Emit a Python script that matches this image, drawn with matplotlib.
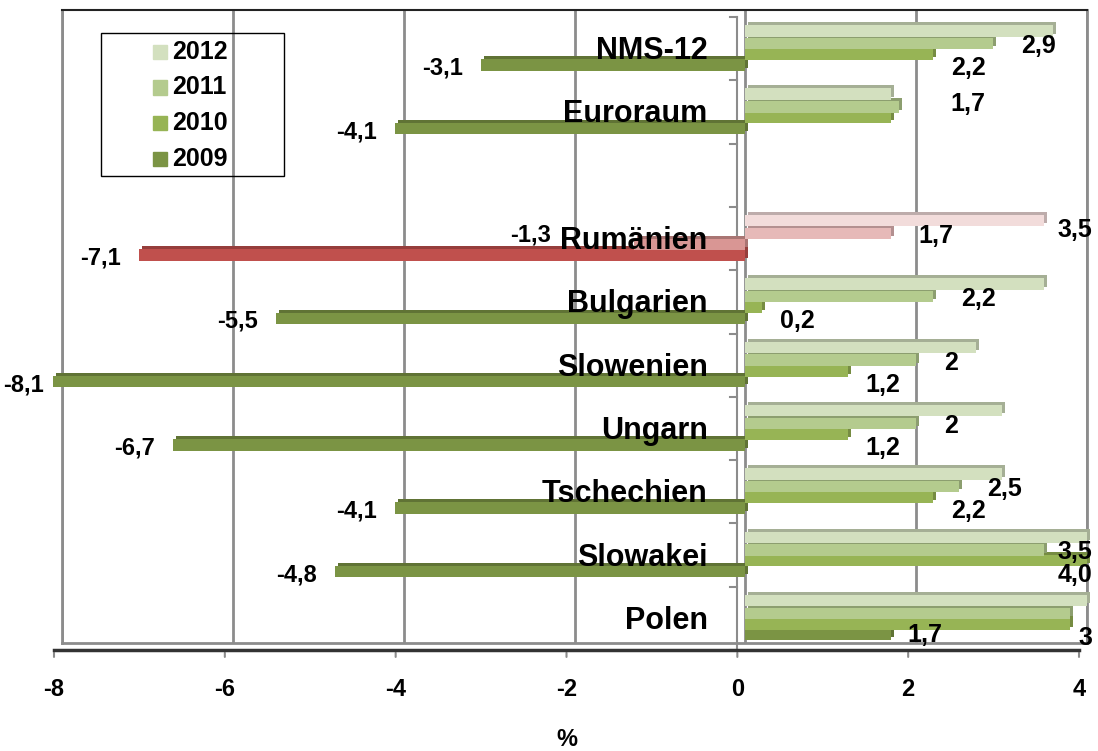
import matplotlib.pyplot as plt
import matplotlib.transforms as mtransforms
from matplotlib.patches import Rectangle
from matplotlib import font_manager
import numpy as np

plt.rcParams['font.family'] = ['Liberation Sans', 'DejaVu Sans']
plt.rcParams['font.weight'] = 'bold'

# Kategorien von unten nach oben, '' = Leerzeile zwischen Ländern und Aggregaten
laender = ['Polen', 'Slowakei', 'Tschechien', 'Ungarn', 'Slowenien', 'Bulgarien',
           'Rumänien', '', 'Euroraum', 'NMS-12']
jahre = ['2009', '2010', '2011', '2012']

w2009 = [1.7, -4.8, -4.1, -6.7, -8.1, -5.5, -7.1, None, -4.1, -3.1]
w2010 = [3.8, 4.0, 2.2, 1.2, 1.2, 0.2, -1.3, None, 1.7, 2.2]
w2011 = [3.8, 3.5, 2.5, 2.0, 2.0, 2.2, 1.7, None, 1.8, 2.9]
w2012 = [4.0, 4.0, 3.0, 3.0, 2.7, 3.5, 3.5, None, 1.7, 3.6]

# Datenbeschriftungen wie im Original (nicht jeder Balken hat eine)
lab2009 = ['1,7', '-4,8', '-4,1', '-6,7', '-8,1', '-5,5', '-7,1', None, '-4,1', '-3,1']
lab2010 = ['3', '4,0', '2,2', '1,2', '1,2', '0,2', '-1,3', None, None, '2,2']
lab2011 = [None, '3,5', '2,5', '2', '2', '2,2', '1,7', None, None, '2,9']
lab2012 = [None, None, None, None, None, None, '3,5', None, '1,7', None]

xticks = [-8, -6, -4, -2, 0, 2, 4]

werte = [w2009, w2010, w2011, w2012]
labels = [lab2009, lab2010, lab2011, lab2012]
gruen = ['#7b9444', '#97b455', '#b4cb8e', '#d3e0bf']
rot = ['#c0504d', '#d99694', '#e6b9b8', '#f2dcdb']
versatz = [-0.37, -0.2, -0.03, 0.17]
hoehe = 0.18
# Lage der positiven Beschriftungen je Serie (Abstand rechts, Verschiebung nach unten)
lab_dx = [0.2, 0.21, 0.33, 0.7]
lab_dy = [0.0, -0.22, -0.04, -0.15]


def dunkler(c, f=0.78):
    r, g, b = [int(c[i:i + 2], 16) / 255 for i in (1, 3, 5)]
    return (r * f, g * f, b * f)


# schmale Schrift für Achse und negative Werte, falls vorhanden
try:
    font_manager.findfont(font_manager.FontProperties(family='Liberation Sans Narrow', weight='bold'),
                          fallback_to_default=False)
    schmal = ['Liberation Sans Narrow', 'DejaVu Sans']
    schmal_size = 21
except Exception:
    schmal = ['Liberation Sans', 'DejaVu Sans']
    schmal_size = 17

W, H = 1098, 751
fig = plt.figure(figsize=(W / 100, H / 100), dpi=100)
ax = fig.add_axes([62 / W, 1 - 643 / H, (1087 - 62) / W, (643 - 10) / H])
ax.set_xlim(-8, 4)
ax.set_ylim(-0.5, 9.5)
ax.set_xticks([])
ax.set_yticks([])
for s in ['left', 'right', 'bottom']:
    ax.spines[s].set_color('#8c8c8c')
    ax.spines[s].set_linewidth(2)
ax.spines['top'].set_color('#222222')
ax.spines['top'].set_linewidth(1.5)

for x in xticks:
    ax.axvline(x, color='#8c8c8c', lw=2, zorder=1)

# vorne = Boden/Achse im 3D-Look etwas nach links unten versetzt
vorne = ax.transData + mtransforms.ScaledTranslation(-8 / 100, -7 / 100, fig.dpi_scale_trans)
schatten = ax.transData + mtransforms.ScaledTranslation(3 / 100, 3 / 100, fig.dpi_scale_trans)

ax.plot([-8, 4], [-0.5, -0.5], color='#333333', lw=2.5, transform=vorne, clip_on=False, zorder=5)
for x in xticks:
    ax.annotate('', xy=(x, -0.5), xycoords=vorne, xytext=(0, -7), textcoords='offset points',
                arrowprops=dict(arrowstyle='-', color='#8c8c8c', lw=1.5), annotation_clip=False)
    ax.text(x, -0.5, str(x), transform=ax.transData + mtransforms.ScaledTranslation(-8 / 100, -47 / 100, fig.dpi_scale_trans),
            ha='center', va='center', family=schmal, fontsize=schmal_size, fontweight='bold')

# Kategorieachse bei 0
ax.plot([0, 0], [-0.5, 9.5], color='#8c8c8c', lw=1.5, transform=vorne, clip_on=False, zorder=2)
for k in range(-1, 10):
    ax.plot([-0.09, 0], [k + 0.5, k + 0.5], color='#8c8c8c', lw=1.5, transform=vorne, clip_on=False, zorder=2)

y = np.arange(len(laender))
for i in range(4):
    vals = werte[i]
    idx = [j for j in range(len(vals)) if vals[j] is not None]
    farben = [rot[i] if laender[j] == 'Rumänien' else gruen[i] for j in idx]
    yy = y[idx] + versatz[i]
    vv = [vals[j] for j in idx]
    sh = ax.barh(yy, vv, height=hoehe, color=[dunkler(c) for c in farben], zorder=3, clip_on=False)
    for p in sh:
        p.set_transform(schatten)
    ax.barh(yy, vv, height=hoehe, color=farben, zorder=3, clip_on=False)

    for j in idx:
        txt = labels[i][j]
        if txt is None:
            continue
        v = vals[j]
        by = y[j] + versatz[i]
        if v >= 0:
            lx, ly, ha = v + lab_dx[i], by + lab_dy[i], 'left'
            if lx + 0.14 * len(txt) > 4.06:
                lx, ha = 4.06, 'right'
            ax.text(lx, ly, txt, ha=ha, va='center', fontsize=18,
                    fontweight='bold', zorder=6, clip_on=False)
        else:
            lx, ly = max(v - 0.45, -8.45), by - 0.05
            if laender[j] == 'Rumänien' and i == 1:
                lx, ly = lx - 0.77, ly + 0.19
            ax.text(lx, ly, txt, ha='center', va='center', family=schmal, fontsize=schmal_size,
                    fontweight='bold', zorder=6, clip_on=False)

for j, name in enumerate(laender):
    if name:
        ax.text(-0.44, j - 0.15, name, ha='right', va='center', fontsize=22,
                fontweight='bold', zorder=6)

# Legende (transparent, Gitterlinie scheint durch)
def fx(px):
    return px / W


def fy(py):
    return 1 - py / H


fig.patches.append(Rectangle((fx(101), fy(176)), fx(284) - fx(101), fy(33) - fy(176),
                             transform=fig.transFigure, fill=False, edgecolor='black', lw=1, zorder=7))
for k, (jahr, c) in enumerate(zip(jahre[::-1], gruen[::-1])):
    yc = 52 + k * 35.5
    fig.patches.append(Rectangle((fx(153), fy(yc + 7)), fx(167) - fx(153), fy(yc - 7) - fy(yc + 7),
                                 transform=fig.transFigure, color=c, zorder=7))
    fig.text(fx(172), fy(yc), jahr, ha='left', va='center', fontsize=18, fontweight='bold')

fig.text(fx(567), fy(740), '%', ha='center', va='center', fontsize=17, fontweight='bold')

plt.savefig('out.png', dpi=100)
